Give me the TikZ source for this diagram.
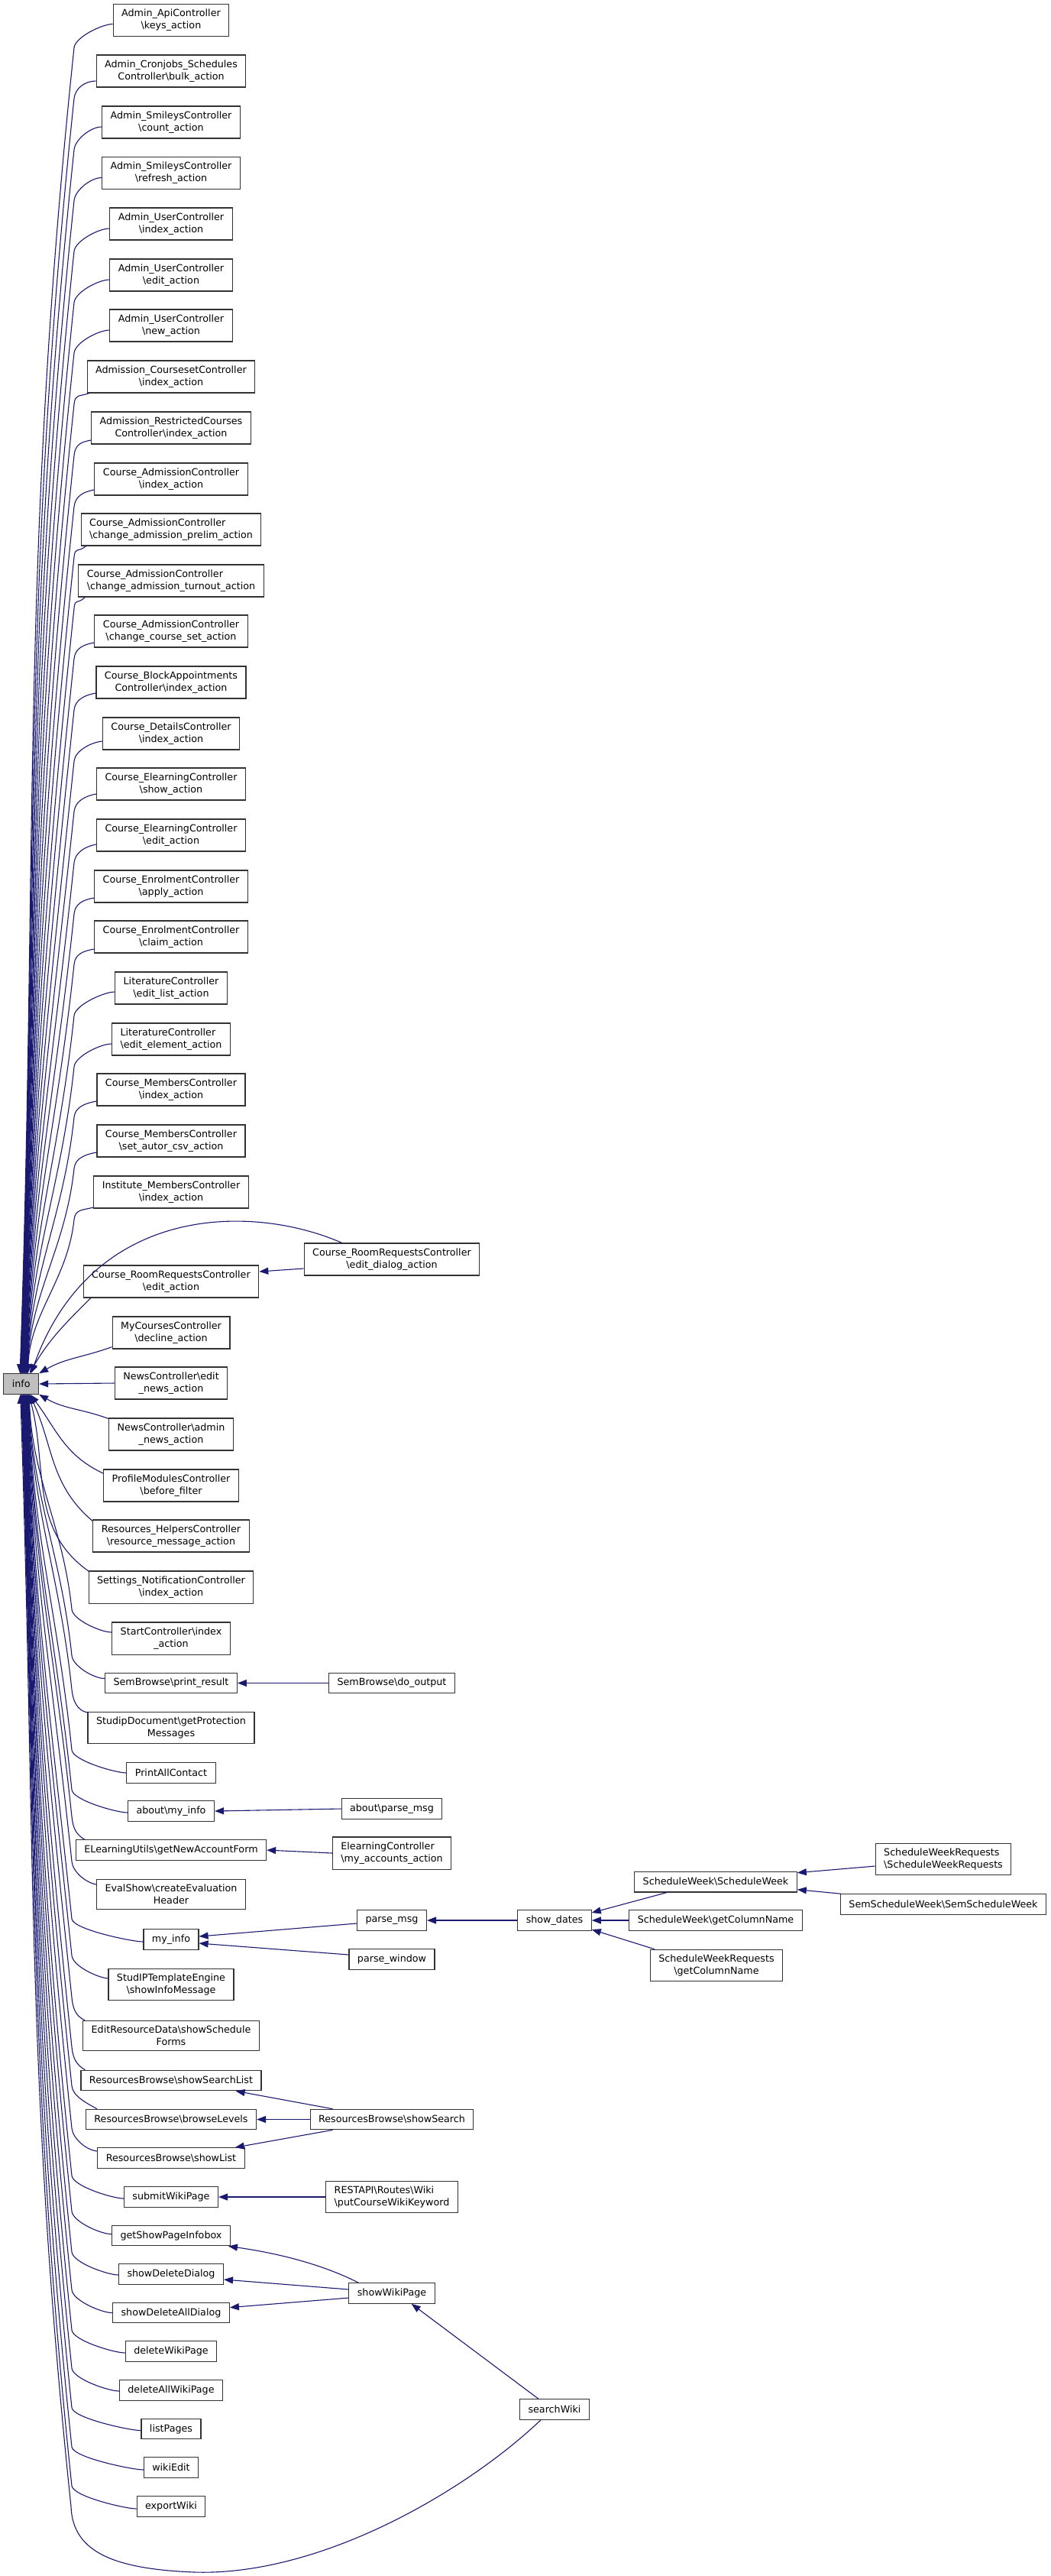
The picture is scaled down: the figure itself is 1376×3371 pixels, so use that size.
\documentclass[tikz,border=0pt]{standalone}
\usepackage{fontspec}
\setmainfont{DejaVu Sans}
\usetikzlibrary{arrows.meta, calc}
\definecolor{callblue}{RGB}{25,25,112}
\newcommand{\bsl}{\textbackslash}
\tikzset{
  fn/.style={draw=black!80, line width=1.1pt, fill=white, align=center, inner xsep=11pt, inner ysep=6.7pt, minimum height=26.5pt, font={\fontsize{12.7}{16}\selectfont}},
  fnl/.style={fn, align=left},
  cur/.style={fn, fill=black!25},
  call/.style={callblue, line width=1.1pt, -{Triangle[length=12pt, width=9pt]}},
}
\begin{document}
\begin{tikzpicture}[x=1pt, y=-1pt]
\useasboundingbox (0,0) rectangle (1376,3371);
\coordinate (ubend) at (97,0);
\coordinate (lbend) at (94,0);
% the function itself
\node[cur] (info) at (27.7,1811) {info};
% callers, first column
\node[fn] (keys) at (224,26.5) {Admin\_ApiController\\\bsl keys\_action};
\node[fn] (bulk) at (224,93) {Admin\_Cronjobs\_Schedules\\Controller\bsl bulk\_action};
\node[fn] (count) at (224,160) {Admin\_SmileysController\\\bsl count\_action};
\node[fn] (refresh) at (224,226.5) {Admin\_SmileysController\\\bsl refresh\_action};
\node[fn] (uindex) at (224,293) {Admin\_UserController\\\bsl index\_action};
\node[fn] (uedit) at (224,360) {Admin\_UserController\\\bsl edit\_action};
\node[fn] (unew) at (224,426) {Admin\_UserController\\\bsl new\_action};
\node[fn] (cset) at (224,493) {Admission\_CoursesetController\\\bsl index\_action};
\node[fn] (restr) at (224,560) {Admission\_RestrictedCourses\\Controller\bsl index\_action};
\node[fn] (caindex) at (224,627) {Course\_AdmissionController\\\bsl index\_action};
\node[fnl] (prelim) at (224,693) {Course\_AdmissionController\\\bsl change\_admission\_prelim\_action};
\node[fnl] (turnout) at (224,760) {Course\_AdmissionController\\\bsl change\_admission\_turnout\_action};
\node[fn] (ccs) at (224,826) {Course\_AdmissionController\\\bsl change\_course\_set\_action};
\node[fn] (block) at (224,893) {Course\_BlockAppointments\\Controller\bsl index\_action};
\node[fn] (details) at (224,960) {Course\_DetailsController\\\bsl index\_action};
\node[fn] (elshow) at (224,1026) {Course\_ElearningController\\\bsl show\_action};
\node[fn] (eledit) at (224,1093) {Course\_ElearningController\\\bsl edit\_action};
\node[fn] (apply) at (224,1160) {Course\_EnrolmentController\\\bsl apply\_action};
\node[fn] (claim) at (224,1226) {Course\_EnrolmentController\\\bsl claim\_action};
\node[fn] (litlist) at (224,1293) {LiteratureController\\\bsl edit\_list\_action};
\node[fnl] (litelem) at (224,1360) {LiteratureController\\\bsl edit\_element\_action};
\node[fn] (mindex) at (224,1426) {Course\_MembersController\\\bsl index\_action};
\node[fn] (autor) at (224,1493) {Course\_MembersController\\\bsl set\_autor\_csv\_action};
\node[fn] (inst) at (224,1560) {Institute\_MembersController\\\bsl index\_action};
\node[fn] (rredit) at (224,1677) {Course\_RoomRequestsController\\\bsl edit\_action};
\node[fn] (decline) at (224,1744) {MyCoursesController\\\bsl decline\_action};
\node[fn] (newsedit) at (224,1810) {NewsController\bsl edit\\\_news\_action};
\node[fn] (newsadmin) at (224,1877) {NewsController\bsl admin\\\_news\_action};
\node[fn] (profile) at (224,1944) {ProfileModulesController\\\bsl before\_filter};
\node[fn] (reshelp) at (224,2010) {Resources\_HelpersController\\\bsl resource\_message\_action};
\node[fn] (settings) at (224,2077) {Settings\_NotificationController\\\bsl index\_action};
\node[fn] (startidx) at (224,2144) {StartController\bsl index\\\_action};
\node[fn] (printres) at (224,2202.5) {SemBrowse\bsl print\_result};
\node[fn] (studipdoc) at (224,2261) {StudipDocument\bsl getProtection\\Messages};
\node[fn] (printall) at (224,2320) {PrintAllContact};
\node[fn] (amyinfo) at (224,2370) {about\bsl my\_info};
\node[fn] (elutils) at (224,2421) {ELearningUtils\bsl getNewAccountForm};
\node[fn] (evalshow) at (224,2479) {EvalShow\bsl createEvaluation\\Header};
\node[fn] (myinfo) at (224,2538) {my\_info};
\node[fn] (tpleng) at (224,2597) {StudIPTemplateEngine\\\bsl showInfoMessage};
\node[fn] (editres) at (224,2664) {EditResourceData\bsl showSchedule\\Forms};
\node[fn] (ssl) at (224,2722.5) {ResourcesBrowse\bsl showSearchList};
\node[fn] (browselev) at (224,2773.5) {ResourcesBrowse\bsl browseLevels};
\node[fn] (showlist) at (224,2824) {ResourcesBrowse\bsl showList};
\node[fn] (submitwp) at (224,2875) {submitWikiPage};
\node[fn] (infobox) at (224,2925.6) {getShowPageInfobox};
\node[fn] (deldlg) at (224,2976) {showDeleteDialog};
\node[fn] (delalldlg) at (224,3026.6) {showDeleteAllDialog};
\node[fn] (delwp) at (224,3077) {deleteWikiPage};
\node[fn] (delallwp) at (224,3128) {deleteAllWikiPage};
\node[fn] (listpages) at (224,3178.6) {listPages};
\node[fn] (wikiedit) at (224,3229) {wikiEdit};
\node[fn] (exportwiki) at (224,3280) {exportWiki};
% second column
\node[fn] (edialog) at (513,1648) {Course\_RoomRequestsController\\\bsl edit\_dialog\_action};
\node[fn] (doout) at (513,2202.5) {SemBrowse\bsl do\_output};
\node[fn] (aparse) at (513,2367) {about\bsl parse\_msg};
\node[fnl] (myacc) at (513,2425) {ElearningController\\\bsl my\_accounts\_action};
\node[fn] (pmsg) at (513,2513) {parse\_msg};
\node[fn] (pwin) at (513,2564) {parse\_window};
\node[fn] (ssearch) at (513,2773.5) {ResourcesBrowse\bsl showSearch};
\node[fnl] (restapi) at (513,2875) {RESTAPI\bsl Routes\bsl Wiki\\\bsl putCourseWikiKeyword};
\node[fn] (swp) at (513,3001) {showWikiPage};
% third to fifth column
\node[fn] (sdates) at (726,2513) {show\_dates};
\node[fn] (swiki) at (726,3153) {searchWiki};
\node[fn] (swsw) at (937,2462.7) {ScheduleWeek\bsl ScheduleWeek};
\node[fn] (swcol) at (937,2513) {ScheduleWeek\bsl getColumnName};
\node[fn] (swrcol) at (938,2572) {ScheduleWeekRequests\\\bsl getColumnName};
\node[fnl] (swrsw) at (1235,2433) {ScheduleWeekRequests\\\bsl ScheduleWeekRequests};
\node[fn] (ssw) at (1235,2492) {SemScheduleWeek\bsl SemScheduleWeek};

% calls into info from above
\foreach \nd/\a/\dx/\dy/\o [count=\i] in {keys/west/0/5/180, bulk/west/0/13/180,
    count/west/0/6/180, refresh/west/0/6/180, uindex/west/0/6/180, uedit/west/0/6/180,
    unew/west/0/6/180, cset/south west/3/0/200, restr/west/0/16/190, caindex/west/0/14/190,
    prelim/south west/7/0/220, turnout/south west/9/0/225, ccs/west/0/15/190,
    block/west/0/14/190, details/west/0/10/185, elshow/west/0/13/190, eledit/west/0/12/190,
    apply/west/0/15/190, claim/west/0/16/190, litlist/west/0/5/180, litelem/west/0/6/180,
    mindex/west/0/15/190, autor/west/0/15/190, inst/west/0/20/195}{
  \coordinate (ub) at ($(\nd.center -| ubend)+(0,36)$);
  \coordinate (ue) at ($(info.north)+({0.45*\i-2},0)$);
  \draw[call] ($(\nd.\a)+(\dx,\dy)$) .. controls +(\o:14pt) and +(84:14pt) .. (ub)
    .. controls ($(ub)!0.39!-6:(ub |- ue)$) and ($(ue)!0.39!-2:(ue |- ub)$) .. (ue);
}
% calls into info from below
\foreach \nd/\a/\dx/\dy/\o [count=\i] in {startidx/west/0/-8/180, printres/west/0/-6/180,
    studipdoc/west/0/-20/170, printall/west/0/0/180, amyinfo/west/0/2/180,
    elutils/north west/12/0/150, evalshow/west/0/-13/170, myinfo/west/0/3/180,
    tpleng/west/0/-8/175, editres/north west/3/0/155, ssl/north west/6/0/150,
    browselev/north west/15/0/150, showlist/west/0/-9/175, submitwp/west/0/2/180,
    infobox/west/0/-2/180, deldlg/west/0/1/180, delalldlg/west/0/0/180,
    delwp/west/0/2/180, delallwp/west/0/1/180, listpages/west/0/2/180,
    wikiedit/west/0/3/180, exportwiki/west/0/3/180}{
  \coordinate (lb) at ($(\nd.\a -| lbend)+(0,{\dy-30})$);
  \coordinate (le) at ($(info.south)+({11-0.5*\i},0)$);
  \draw[call] ($(\nd.\a)+(\dx,\dy)$) .. controls +(\o:14pt) and +(276:14pt) .. (lb)
    .. controls ($(lb)!0.39!6:(lb |- le)$) and ($(le)!0.39!2:(le |- lb)$) .. (le);
}
% callers close to info
\draw[call] ($(rredit.south west)+(10,0)$) .. controls +(225:50pt) and +(60:50pt) .. ($(info.north)+(11,0)$);
\draw[call] ($(edialog.north west)+(50,0)$) .. controls (330,1575) and (120,1575) .. ($(info.north)+(13,0)$);
\draw[call] ($(decline.south west)+(0,-3)$) .. controls +(200:40pt) and +(30:40pt) .. (info.north east);
\draw[call] (newsedit.west) -- (info.east);
\draw[call] ($(newsadmin.north west)+(0,1)$) .. controls +(160:38pt) and +(-30:38pt) .. (info.south east);
\draw[call] ($(profile.west)+(0,-16)$) .. controls +(155:56pt) and +(-53:56pt) .. ($(info.south)+(12,0)$);
\draw[call] ($(reshelp.north west)+(0,2)$) .. controls +(140:73pt) and +(-65:73pt) .. ($(info.south)+(11,0)$);
\draw[call] ($(settings.north west)+(1,1)$) .. controls +(145:96pt) and +(-75:96pt) .. ($(info.south)+(10,0)$);
\draw[call] ($(swiki.south west)+(28,0)$) .. controls (610,3260) and (420,3371) .. (255,3366)
  .. controls (150,3362) and (95,3340) .. (93,3280) .. controls +(96:570pt) and +(272:570pt) .. ($(info.south)+(-1,0)$);
% second level calls
\draw[call] ($(edialog.west)+(0,12)$) -- ($(rredit.east)+(0,-13)$);
\draw[call] (doout.west) -- (printres.east);
\draw[call] (aparse.west) -- (amyinfo.east);
\draw[call] (myacc.west) -- (elutils.east);
\draw[call] ($(pmsg.west)+(0,4)$) -- ($(myinfo.east)+(0,-4)$);
\draw[call] ($(pwin.west)+(0,-6)$) -- ($(myinfo.east)+(0,5)$);
\draw[call] (sdates.west) -- (pmsg.east);
\draw[call] ($(swsw.south west)+(43,0)$) -- ($(sdates.east)+(0,-10)$);
\draw[call] (swcol.west) -- (sdates.east);
\draw[call] ($(swrcol.north west)+(6,0)$) -- ($(sdates.east)+(0,12)$);
\draw[call] ($(swrsw.west)+(0,9)$) -- ($(swsw.east)+(0,-12)$);
\draw[call] ($(ssw.north west)+(1,0)$) -- ($(swsw.east)+(0,10)$);
\draw[call] ($(ssearch.north west)+(30,0)$) -- ($(ssl.south east)+(-34,0)$);
\draw[call] (ssearch.west) -- (browselev.east);
\draw[call] ($(ssearch.south west)+(30,0)$) -- ($(showlist.north east)+(-13,0)$);
\draw[call] (restapi.west) -- (submitwp.east);
\draw[call] ($(swp.north west)+(13,0)$) .. controls (420,2962) and (360,2948) .. ($(infobox.south east)+(-3,0)$);
\draw[call] ($(swp.west)+(0,-5)$) -- ($(deldlg.east)+(0,7)$);
\draw[call] ($(swp.west)+(0,6)$) -- ($(delalldlg.east)+(0,-7)$);
\draw[call] ($(swiki.north west)+(25,0)$) -- ($(swp.south east)+(-31,0)$);
\end{tikzpicture}
\end{document}
